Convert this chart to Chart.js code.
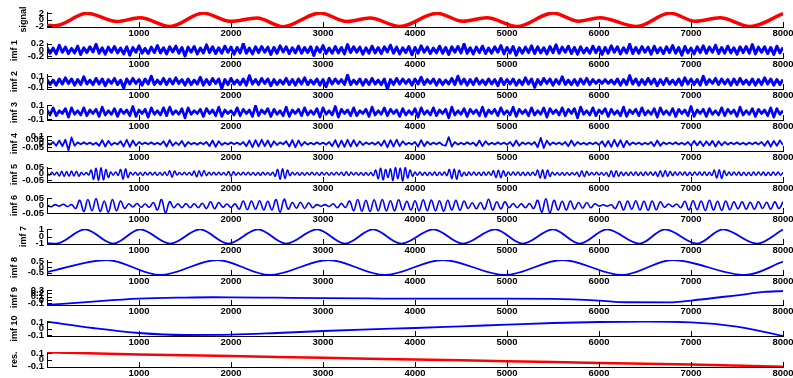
<!DOCTYPE html>
<html>
<head>
<meta charset="utf-8">
<script src="https://cdn.jsdelivr.net/npm/chart.js@4/dist/chart.umd.min.js"></script>
<style>
  html, body { margin: 0; padding: 0; background: #fff; }
  #wrap { position: relative; width: 793px; height: 378px; overflow: hidden; }
  #wrap canvas { position: absolute; left: 0; }
</style>
</head>
<body>
<div id="wrap"></div>
<script>
// x axis ticks shared by every panel
const xTicks = [1000, 2000, 3000, 4000, 5000, 6000, 7000, 8000];

// y tick lists per panel
const signalTicks = [-2, 0, 2];
const imf1Ticks = [-0.2, 0, 0.2];
const imf2Ticks = [-0.1, 0, 0.1];
const imf3Ticks = [-0.1, 0, 0.1];
const imf4Ticks = [-0.05, 0, 0.05, 0.1];
const imf5Ticks = [-0.05, 0, 0.05];
const imf6Ticks = [-0.05, 0, 0.05];
const imf7Ticks = [-1, 0, 1];
const imf8Ticks = [-0.5, 0, 0.5];
const imf9Ticks = [-0.1, 0, 0.1, 0.2, 0.3];
const imf10Ticks = [-0.1, 0, 0.1];
const resTicks = [-0.1, 0, 0.1];

// smooth components, read as turning points (sample index -> value)
const signalX = [0, 90, 435, 761, 1011, 1337, 1700, 1989, 2283, 2565, 2967, 3260, 3510, 3837, 4240, 4520, 4780, 5110, 5500, 5780, 6010, 6413, 6772, 7050, 7315, 7641, 8000];
const signalY = [-1.85, -1.95, 2.0, -0.6, 0.55, -2.2, 2.05, -0.55, 0.5, -2.25, 2.1, -0.6, 0.5, -2.2, 2.0, -0.55, 0.55, -2.2, 2.1, -0.5, 0.6, -2.2, 2.05, -0.55, 0.55, -2.2, 1.9];

const imf7X = [0, 100, 413, 720, 1011, 1340, 1663, 1970, 2293, 2600, 2935, 3240, 3543, 3850, 4200, 4520, 4870, 5170, 5500, 5790, 6087, 6440, 6717, 7065, 7348, 7717, 8000];
const imf7Y = [-0.92, -1, 1, -1, 1, -1, 1, -1, 1, -1, 1, -1, 1, -1, 1, -1, 1, -1, 1, -1, 1, -1, 1, -1, 1, -1, 0.98];

const imf8X = [0, 650, 1230, 1850, 2420, 3060, 3670, 4300, 4980, 5600, 6250, 6800, 7590, 8000];
const imf8Y = [-0.45, 0.65, -0.72, 0.65, -0.72, 0.65, -0.72, 0.65, -0.72, 0.65, -0.72, 0.65, -0.72, 0.5];

const imf9X = [0, 500, 1000, 1500, 1800, 2000, 2500, 3000, 3500, 4000, 5000, 5500, 6000, 6300, 6800, 7000, 7500, 7800, 8000];
const imf9Y = [-0.155, -0.05, 0.036, 0.07, 0.08, 0.078, 0.066, 0.054, 0.044, 0.036, 0.036, 0.03, -0.02, -0.072, -0.073, -0.02, 0.14, 0.24, 0.27];

const imf10X = [0, 500, 1000, 1500, 2000, 2500, 3000, 3500, 4000, 4500, 5000, 5500, 6000, 6500, 7000, 7500, 8000];
const imf10Y = [0.105, 0.01, -0.065, -0.095, -0.09, -0.065, -0.035, -0.01, 0.01, 0.035, 0.06, 0.085, 0.1, 0.105, 0.095, 0.03, -0.11];

const resX = [0, 1000, 2000, 3000, 4000, 5000, 6000, 7000, 8000];
const resY = [0.11, 0.08, 0.055, 0.03, 0.005, -0.02, -0.045, -0.07, -0.1];

// fast oscillating components, evenly spaced over 0..8000
const imf1 = [
  .08,-.1,.06,-.12,.15,-.07,.09,-.11,.05,-.09,.12,-.14,.07,-.08,.1,-.06,.18,-.1,.07,-.13,
  .09,-.07,.11,-.09,.06,-.12,.1,-.16,.08,-.07,.13,-.1,.05,-.11,.09,-.08,.14,-.09,.07,-.12,
  .1,-.06,.12,-.1,.08,-.19,.09,-.07,.11,-.12,.06,-.09,.16,-.08,.1,-.11,.07,-.1,.12,-.07,
  .09,-.13,.08,-.09,.2,-.1,.06,-.12,.1,-.08,.11,-.07,.09,-.14,.08,-.1,.13,-.06,.1,-.11,
  .07,-.09,.12,-.1,.08,-.08,.1,-.17,.09,-.07,.14,-.11,.06,-.1,.11,-.09,.08,-.12,.17,-.08,
  .1,-.07,.09,-.13,.07,-.1,.12,-.09,.08,-.11,.1,-.06,.15,-.1,.09,-.12,.07,-.08,.11,-.15,
  .08,-.1,.13,-.07,.09,-.11,.06,-.09,.12,-.1,.08,-.14,.1,-.07,.11,-.09,.19,-.1,.07,-.12,
  .09,-.08,.12,-.11,.06,-.1,.1,-.07,.14,-.12,.08,-.09,.11,-.16,.07,-.1,.09,-.08,.13,-.11,
  .1,-.09,.07,-.12,.11,-.08,.16,-.1,.09,-.07,.12,-.11,.08,-.13,.1,-.09,.06,-.1,.12,-.08,
  .09,-.14,.08,-.1,.13,-.07,.1,-.12,.07,-.09,.18,-.11,.08,-.1,.11,-.07,.09,-.13,.12,-.09,
  .07,-.11,.1,-.08,.14,-.1,.08,-.16,.11,-.09,.06,-.12,.1,-.08,.13,-.1,.09,-.07,.15,-.11,
  .08,-.1,.12,-.09,.07,-.13,.1,-.08,.11,-.1,.17,-.12,.09,-.07,.1,-.11,.08,-.14,.12,-.09,
  .08
];

const imf2 = [
  .04,-.05,.03,-.06,.05,-.04,.07,-.03,.05,-.06,.04,-.05,.09,-.04,.03,-.05,.06,-.04,.05,-.07,
  .04,-.03,.06,-.05,.03,-.11,.05,-.04,.06,-.03,.04,-.06,.05,-.04,.1,-.05,.03,-.04,.06,-.05,
  .05,-.04,.07,-.03,.04,-.06,.05,-.05,.03,-.04,.08,-.06,.04,-.05,.06,-.03,.05,-.12,.04,-.05,
  .06,-.04,.03,-.05,.05,-.06,.11,-.04,.04,-.05,.06,-.03,.05,-.07,.04,-.05,.03,-.04,.06,-.05,
  .04,-.06,.05,-.04,.07,-.05,.03,-.04,.05,-.06,.04,-.09,.06,-.04,.05,-.03,.04,-.05,.12,-.05,
  .03,-.04,.05,-.06,.04,-.05,.06,-.04,.03,-.05,.05,-.13,.04,-.05,.06,-.04,.05,-.03,.04,-.06,
  .05,-.04,.08,-.05,.04,-.03,.05,-.06,.04,-.05,.03,-.04,.06,-.05,.1,-.04,.05,-.06,.04,-.05,
  .06,-.04,.03,-.05,.05,-.04,.04,-.07,.06,-.05,.04,-.04,.05,-.06,.03,-.05,.07,-.04,.05,-.1,
  .04,-.05,.06,-.03,.05,-.06,.04,-.04,.09,-.05,.03,-.05,.04,-.06,.05,-.04,.06,-.05,.04,-.03,
  .03,-.03,.04,-.03,.03,-.04,.05,-.06,.04,-.05,.11,-.04,.05,-.06,.04,-.05,.06,-.04,.05,-.07,
  .04,-.05,.06,-.04,.03,-.05,.05,-.06,.07,-.04,.05,-.05,.04,-.06,.1,-.05,.04,-.03,.06,-.05,
  .05,-.04,.04,-.06,.05,-.05,.06,-.04,.03,-.05,.05,-.06,.04,-.05,.07,-.04,.05,-.06,.04,-.05,
  .04
];

const imf3 = [
  .03,-.04,.06,-.05,.02,-.02,.05,-.07,.06,-.03,.02,-.04,.06,-.05,.03,-.02,.04,-.06,.07,-.04,
  .02,-.03,.05,-.06,.04,-.02,.03,-.05,.08,-.06,.03,-.02,.04,-.07,.06,-.03,.02,-.04,.06,-.05,
  .07,-.03,.02,-.03,.05,-.08,.06,-.03,.02,-.02,.04,-.06,.05,-.02,.03,-.05,.07,-.06,.03,-.02,
  .02,-.04,.06,-.05,.04,-.02,.03,-.06,.09,-.05,.03,-.02,.05,-.06,.04,-.03,.02,-.05,.07,-.06,
  .03,-.02,.04,-.05,.06,-.04,.02,-.03,.05,-.07,.06,-.03,.02,-.04,.08,-.07,.04,-.02,.03,-.05,
  .06,-.05,.02,-.02,.04,-.06,.07,-.04,.02,-.03,.06,-.05,.04,-.02,.03,-.06,.05,-.04,.02,-.03,
  .05,-.07,.06,-.03,.02,-.04,.06,-.05,.03,-.02,.04,-.08,.07,-.04,.02,-.03,.05,-.06,.04,-.02,
  .03,-.05,.07,-.06,.03,-.02,.04,-.05,.06,-.03,.02,-.04,.07,-.06,.04,-.02,.03,-.05,.06,-.04,
  .02,-.03,.06,-.07,.05,-.02,.03,-.04,.06,-.05,.04,-.02,.05,-.08,.07,-.03,.02,-.04,.06,-.05,
  .03,-.02,.05,-.06,.04,-.03,.02,-.05,.07,-.06,.03,-.02,.04,-.05,.06,-.04,.02,-.03,.05,-.07,
  .06,-.03,.02,-.04,.05,-.06,.04,-.02,.03,-.05,.08,-.06,.03,-.02,.04,-.06,.05,-.03,.02,-.04,
  .06,-.05,.04,-.02,.03,-.06,.07,-.04,.02,-.03,.05,-.06,.04,-.02,.03,-.05,.06,-.07,.05,-.03,
  .02
];

const imf4 = [
  .01,-.015,.02,-.03,.04,-.035,.05,-.09,.08,-.03,.015,-.01,.015,-.01,.012,-.015,.01,-.03,.045,-.04,
  .035,-.02,.01,-.012,.03,-.04,.05,-.045,.04,-.03,.02,-.01,.012,-.01,.015,-.012,.01,-.015,.03,-.04,
  .045,-.03,.015,-.02,.035,-.04,.02,-.012,.01,-.015,.012,-.01,.02,-.035,.04,-.045,.03,-.02,.01,-.012,
  .015,-.01,.012,-.015,.02,-.035,.04,-.05,.045,-.04,.05,-.035,.04,-.045,.03,-.02,.015,-.01,.03,-.04,
  .045,-.05,.04,-.03,.02,-.015,.01,-.012,.015,-.01,.012,-.015,.02,-.035,.045,-.05,.04,-.045,.05,-.04,
  .045,-.035,.03,-.02,.015,-.01,.012,-.015,.02,-.03,.04,-.05,.045,-.04,.05,-.035,.03,-.015,.01,-.012,
  .02,-.04,.045,-.035,.025,-.015,.012,-.01,.015,-.02,-.03,.085,-.04,.02,-.015,.01,-.012,.015,-.01,.012,
  -.03,.04,-.035,.03,-.015,.01,-.012,.015,-.01,.012,-.015,.02,-.035,.04,-.03,.015,-.01,.012,-.015,.02,
  -.05,.075,-.06,.04,-.02,.015,-.01,.012,-.015,.02,-.035,.04,-.03,.02,-.012,.01,-.015,.012,-.01,.015,
  -.02,.03,-.04,.035,-.045,.05,-.04,.045,-.05,.035,-.02,.015,-.01,.012,-.015,.01,-.012,.02,-.035,.04,
  -.03,.015,-.01,.012,-.01,.015,-.012,.01,-.015,.02,-.03,.035,-.025,.03,-.035,.03,-.025,.035,-.04,.03,
  -.025,.02,-.015,.012,-.01,.015,-.012,.01,-.015,.012,-.01,.015,-.012,.02,-.03,.035,-.04,.035,-.03,.04,
  -.02
];

const imf5 = [
  .01,-.012,.013,-.01,.012,-.018,.02,-.022,.018,-.02,.022,-.019,.021,-.02,.01,-.009,.011,-.01,.03,-.045,
  .045,-.055,.048,-.05,.035,-.03,.014,-.012,.015,-.013,.035,-.045,.04,-.03,.012,-.01,.013,-.012,.01,-.013,
  .012,-.01,.013,-.011,.012,-.013,.01,-.012,.014,-.015,.025,-.028,.022,-.01,.011,-.009,.012,-.01,.011,-.012,
  .022,-.025,.024,-.02,.026,-.015,.012,-.01,.013,-.011,.012,-.01,.011,-.013,.018,-.02,.017,-.012,.01,-.011,
  .012,-.01,.013,-.011,.01,-.012,.011,-.013,.012,-.01,.011,-.012,.013,-.02,.035,-.045,.04,-.038,.03,-.015,
  .012,-.01,.011,-.013,.01,-.012,.011,-.01,.012,-.011,.01,-.013,.012,-.01,.011,-.012,.01,-.011,.012,-.01,
  .013,-.015,.016,-.014,.012,-.01,.011,-.012,.01,-.013,.011,-.012,.01,-.015,.03,-.04,.045,-.05,.035,-.03,
  .04,-.055,.05,-.04,.045,-.06,.05,-.035,.03,-.02,.014,-.012,.015,-.013,.012,-.014,.013,-.012,.014,-.015,
  .013,-.012,.014,-.015,.035,-.04,.038,-.045,.03,-.02,.013,-.015,.014,-.012,.015,-.013,.012,-.014,.015,-.013,
  .014,-.012,.025,-.03,.028,-.032,.025,-.02,.015,-.013,.014,-.012,.015,-.014,.013,-.015,.012,-.014,.013,-.015,
  .03,-.035,.033,-.038,.03,-.02,.012,-.011,.01,-.012,.011,-.013,.01,-.012,.011,-.01,.012,-.022,.025,-.024,
  .02,-.012,.011,-.01,.012,-.011,.01,-.012,.011,-.022,.025,-.026,.024,-.02,.015,-.014,.013,-.015,.014,-.013,
  .015,-.014,.013,-.015,.014,-.012,.015,-.013,.014,-.022,.025,-.024,.026,-.022,.02,-.015,.014,-.013,.015,-.012,
  .014,-.015,.013,-.014,.015,-.012,.014,-.013,.015,-.014,.013,-.015,.03,-.035,.032,-.038,.025,-.015,.014,-.013,
  .015,-.012,.014,-.015,.013,-.014,.012,-.015,.014,-.013,.015,-.012,.014,-.015,.013,-.014,.015,-.012,.014,-.013,
  .012
];

const imf6 = [
  .005,-.008,.006,-.004,.008,-.007,.006,-.02,.035,-.04,.04,-.035,.045,-.04,.03,-.045,.04,-.035,.03,-.02,
  .012,-.01,.013,-.012,.01,-.012,.02,-.03,.04,-.05,.025,-.015,.012,-.014,.013,-.015,.012,-.014,.015,-.02,
  .025,-.022,.02,-.012,.01,-.013,.011,-.025,.03,-.028,.03,-.025,.032,-.03,.028,-.03,.04,-.045,.042,-.025,
  .02,-.018,.022,-.02,.018,-.015,.006,-.005,.006,-.007,.012,-.015,.014,-.013,.03,-.035,.04,-.038,.035,-.04,
  .038,-.035,.04,-.036,.032,-.035,.038,-.03,.028,-.03,.032,-.035,.038,-.034,.036,-.035,.032,-.038,.035,-.03,
  .034,-.032,.03,-.02,.018,-.022,.02,-.025,.042,-.03,.025,-.022,.024,-.015,.013,-.014,.012,-.015,.013,-.02,
  .035,-.045,.045,-.05,.035,-.03,.028,-.03,.03,-.025,.02,-.018,.02,-.015,.012,-.004,.005,-.004,.005,-.02,
  .028,-.03,.03,-.025,.032,-.03,.028,-.032,.03,-.028,.025,-.012,.01,-.008,.01,-.015,.028,-.03,.032,-.028,
  .03,-.033,.035,-.03,.028,-.032,.03,-.028,.025,-.022,.024,-.025,.022,-.024,.025,-.02,.022,-.025,.024,-.02,
  .025
];

const RED = '#ff0000';
const BLUE = '#0000ff';
const FONT = "'Liberation Sans', Arial, Helvetica, sans-serif";

function knots(xs, ys) {
    return xs.map((x, i) => ({ x: x, y: ys[i] }));
}
function sampled(vals) {
    const step = 8000 / (vals.length - 1);
    return vals.map((v, i) => ({ x: i * step, y: v }));
}

const panels = [
    { name: 'signal', data: knots(signalX, signalY), min: -2.35, max: 2.4, ticks: signalTicks, color: RED, lw: 3.5, mode: 'monotone', titlePad: 18 },
    { name: 'imf 1', data: sampled(imf1), min: -0.25, max: 0.22, ticks: imf1Ticks, color: BLUE, lw: 3 },
    { name: 'imf 2', data: sampled(imf2), min: -0.13, max: 0.14, ticks: imf2Ticks, color: BLUE, lw: 3 },
    { name: 'imf 3', data: sampled(imf3), min: -0.11, max: 0.1, ticks: imf3Ticks, color: BLUE, lw: 2.7 },
    { name: 'imf 4', data: sampled(imf4), min: -0.1, max: 0.1, ticks: imf4Ticks, color: BLUE, lw: 1.8 },
    { name: 'imf 5', data: sampled(imf5), min: -0.067, max: 0.055, ticks: imf5Ticks, color: BLUE, lw: 1.5, tension: 0.4 },
    { name: 'imf 6', data: sampled(imf6), min: -0.05, max: 0.05, ticks: imf6Ticks, color: BLUE, lw: 1.6, tension: 0.4 },
    { name: 'imf 7', data: knots(imf7X, imf7Y), min: -1.05, max: 1.05, ticks: imf7Ticks, color: BLUE, lw: 1.8, mode: 'monotone', titlePad: 18 },
    { name: 'imf 8', data: knots(imf8X, imf8Y), min: -0.72, max: 0.65, ticks: imf8Ticks, color: BLUE, lw: 1.8, mode: 'monotone' },
    { name: 'imf 9', data: knots(imf9X, imf9Y), min: -0.155, max: 0.3, ticks: imf9Ticks, color: BLUE, lw: 1.8, mode: 'monotone' },
    { name: 'imf 10', data: knots(imf10X, imf10Y), min: -0.11, max: 0.115, ticks: imf10Ticks, color: BLUE, lw: 1.8, mode: 'monotone' },
    { name: 'res.', data: knots(resX, resY), min: -0.105, max: 0.115, ticks: resTicks, color: RED, lw: 2.5, mode: 'monotone' }
];

// MATLAB style tick marks pointing into the axes
const inwardTicks = {
    id: 'inwardTicks',
    afterDraw(chart) {
        const { ctx, chartArea: a, scales: { x, y } } = chart;
        ctx.save();
        ctx.strokeStyle = '#000';
        ctx.lineWidth = 1;
        ctx.beginPath();
        x.ticks.forEach(t => {
            const px = Math.round(x.getPixelForValue(t.value)) + 0.5;
            ctx.moveTo(px, a.bottom);
            ctx.lineTo(px, a.bottom - 5);
        });
        y.ticks.forEach(t => {
            const py = Math.round(y.getPixelForValue(t.value)) + 0.5;
            ctx.moveTo(a.left, py);
            ctx.lineTo(a.left + 5, py);
        });
        ctx.stroke();
        ctx.restore();
    }
};

const STRIDE = 30.94, PAD_TOP = 6, AREA_H = 15, X_AXIS_H = 16;
const wrap = document.getElementById('wrap');

panels.forEach((p, i) => {
    const canvas = document.createElement('canvas');
    const h = PAD_TOP + AREA_H + X_AXIS_H;
    canvas.width = 793;
    canvas.height = h;
    canvas.style.width = '793px';
    canvas.style.height = h + 'px';
    canvas.style.top = (Math.round(12 + STRIDE * i) - PAD_TOP) + 'px';
    wrap.appendChild(canvas);

    new Chart(canvas.getContext('2d'), {
        type: 'line',
        data: {
            datasets: [{
                data: p.data,
                borderColor: p.color,
                borderWidth: p.lw,
                pointRadius: 0,
                fill: false,
                tension: p.tension || 0,
                cubicInterpolationMode: p.mode || 'default',
                borderJoinStyle: 'round'
            }]
        },
        options: {
            responsive: false,
            animation: false,
            events: [],
            layout: { padding: { left: 0, right: 10, top: PAD_TOP, bottom: 0 } },
            plugins: { legend: { display: false }, tooltip: { enabled: false } },
            scales: {
                x: {
                    type: 'linear', min: 0, max: 8000,
                    afterBuildTicks: s => { s.ticks = xTicks.map(v => ({ value: v })); },
                    afterFit: s => { s.height = X_AXIS_H; s.paddingLeft = 0; s.paddingRight = 0; },
                    grid: { display: false, drawTicks: false },
                    border: { display: true, color: '#000', width: 1 },
                    ticks: { color: '#000', font: { family: FONT, size: 9.5, weight: 'bold' }, padding: 0.5, maxRotation: 0, autoSkip: false, callback: v => String(v) }
                },
                y: {
                    min: p.min, max: p.max,
                    afterBuildTicks: s => { s.ticks = p.ticks.map(v => ({ value: v })); },
                    afterFit: s => { s.width = 47; s.paddingTop = 0; s.paddingBottom = 0; },
                    grid: { display: false, drawTicks: false },
                    border: { display: true, color: '#000', width: 1 },
                    ticks: { color: '#000', font: { family: FONT, size: 9.5, weight: 'bold' }, padding: 3, autoSkip: false, callback: v => String(v) },
                    title: { display: true, text: p.name, color: '#000', font: { family: FONT, size: 9, weight: 'bold' }, padding: { top: p.titlePad || 9.6, bottom: 0 } }
                }
            }
        },
        plugins: [inwardTicks]
    });
});
</script>
</body>
</html>
